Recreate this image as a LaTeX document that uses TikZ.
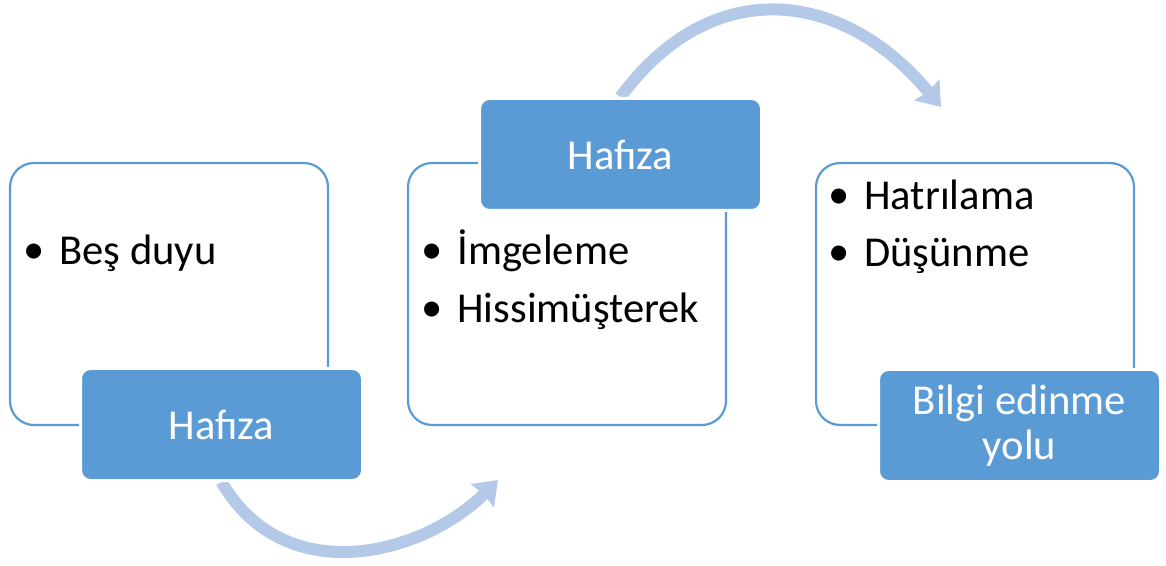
\documentclass[tikz,border=0pt]{standalone}
\usepackage{fontspec}
\setmainfont{Carlito}
\usetikzlibrary{arrows.meta,backgrounds}
\definecolor{tagblue}{RGB}{91,155,213}
\definecolor{arcblue}{RGB}{180,201,232}
\newcommand{\itm}[1]{\makebox[16pt][l]{\hspace{-2pt}\raisebox{0.5pt}{\textbullet}}#1}
\begin{document}
\begin{tikzpicture}[x=0.5pt,y=-0.5pt,
  listbox/.style={draw=tagblue,line width=1.1pt,fill=white,rounded corners=12pt,minimum width=159pt,minimum height=131pt},
  tagbox/.style={draw=white,line width=1.5pt,fill=tagblue,rounded corners=5pt,minimum width=141pt,minimum height=56pt,text=white,align=center,font=\fontsize{21.3}{22.5}\selectfont},
  listitem/.style={anchor=base west,inner sep=0pt,font=\fontsize{21.3}{25}\selectfont},
  flow/.style={draw=arcblue,line width=6pt,-{Stealth[length=11pt,width=16pt,inset=1pt]}}]
\useasboundingbox (0,0) rectangle (1166,566);
\node[listbox] (duyu) at (169,294) {};
\node[listbox] (imge) at (567,294) {};
\node[listbox] (bilgi) at (975,294) {};
\node[tagbox] (hafiza1) at (221.5,424.5) {Hafıza};
\node[tagbox] (hafiza2) at (620.5,154.5) {Hafıza};
\node[tagbox] (yol) at (1019.5,425.5) {Bilgi edinme\\yolu};
\node[listitem] (b1) at (27,265) {\itm{Beş duyu}};
\node[listitem] (b2) at (425,265) {\itm{İmgeleme}};
\node[listitem] (b3) at (425,322) {\itm{Hissimüşterek}};
\node[listitem] (b4) at (832,210) {\itm{Hatrılama}};
\node[listitem] (b5) at (832,267) {\itm{Düşünme}};
\coordinate (tip1) at (498,480);
\coordinate (tip2) at (941,107);
\begin{pgfonlayer}{background}
\draw[flow] (hafiza1.south) .. controls (286,592) and (424,554) .. (tip1);
\draw[flow] (hafiza2.north) .. controls (711,-26) and (842,-12) .. (tip2);
\end{pgfonlayer}
\end{tikzpicture}
\end{document}
